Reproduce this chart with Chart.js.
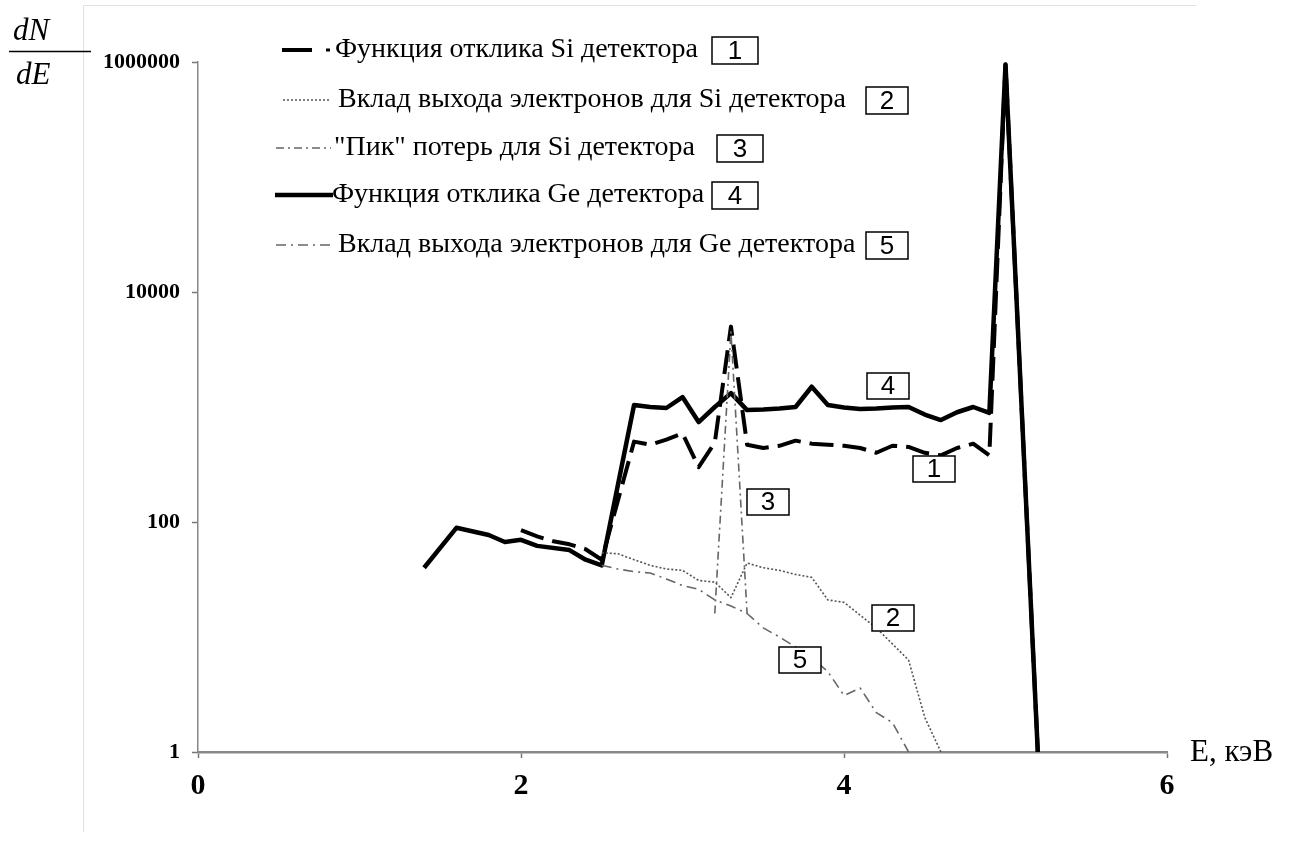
<!DOCTYPE html>
<html>
<head>
<meta charset="utf-8">
<title>Функция отклика детекторов</title>
<script src="https://cdn.jsdelivr.net/npm/chart.js@4"></script>
<style>
  html, body { margin: 0; padding: 0; background: #fff; }
  #wrap { width: 1296px; height: 850px; }
</style>
</head>
<body>
<div id="wrap"><canvas id="response-chart" width="1296" height="850"></canvas></div>
<script>
// energies in keV, counts dN/dE
const siEnergy = [2.0, 2.1, 2.2, 2.3, 2.4, 2.5, 2.7, 2.8, 2.9, 3.0, 3.1, 3.2, 3.3, 3.4, 3.5, 3.6, 3.7, 3.8, 3.9, 4.0, 4.1, 4.2, 4.3, 4.4, 4.5, 4.6, 4.7, 4.8, 4.9, 5.0, 5.2];
const siResponse = [85, 75, 68, 64, 58, 47, 500, 470, 520, 590, 300, 490, 5000, 470, 440, 460, 510, 480, 470, 460, 440, 400, 460, 450, 400, 380, 440, 480, 380, 950000, 1];

const siEscEnergy = [2.5, 2.6, 2.7, 2.8, 2.9, 3.0, 3.1, 3.2, 3.3, 3.4, 3.5, 3.6, 3.7, 3.8, 3.9, 4.0, 4.1, 4.2, 4.3, 4.4, 4.5, 4.6];
const siEscape = [54, 53, 47, 42, 39, 38, 31, 30, 22, 44, 40, 38, 35, 33, 21, 20, 15.5, 12, 8.7, 6.3, 2.0, 1];

const lossEnergy = [3.2, 3.3, 3.4];
const lossPeak = [16, 4500, 16];

const geEnergy = [1.4, 1.6, 1.8, 1.9, 2.0, 2.1, 2.3, 2.4, 2.5, 2.6, 2.7, 2.8, 2.9, 3.0, 3.1, 3.2, 3.3, 3.4, 3.5, 3.6, 3.7, 3.8, 3.9, 4.0, 4.1, 4.2, 4.3, 4.4, 4.5, 4.6, 4.7, 4.8, 4.9, 5.0, 5.2];
const geResponse = [40, 89, 77, 67, 70, 62, 57, 47, 42, 210, 1040, 1000, 980, 1220, 740, 1000, 1320, 940, 950, 970, 1000, 1500, 1040, 990, 960, 970, 990, 1000, 860, 770, 900, 1000, 890, 950000, 1];

const geEscEnergy = [2.5, 2.6, 2.7, 2.8, 2.9, 3.0, 3.1, 3.2, 3.3, 3.4, 3.5, 3.6, 3.7, 3.8, 3.9, 4.0, 4.1, 4.2, 4.3, 4.4];
const geEscape = [42, 39, 37, 36, 32, 28, 26, 21, 18.6, 16, 12, 10, 8.2, 6.6, 5, 3.1, 3.6, 2.2, 1.8, 1];

const yTicks = [1, 100, 10000, 1000000];
const seriesNames = [
  "Функция отклика Si детектора",
  "Вклад выхода электронов для Si детектора",
  "\"Пик\" потерь для Si детектора",
  "Функция отклика Ge детектора",
  "Вклад выхода электронов для Ge детектора",
];
const seriesNumbers = ["1", "2", "3", "4", "5"];

const toPoints = (xs, ys) => xs.map((x, i) => ({ x: x, y: ys[i] }));

const serif = "'Liberation Serif', 'Times New Roman', serif";
const sans = "'Liberation Sans', Arial, sans-serif";

/* ============================================= */
/*            legend, captions, numbers          */
/* ============================================= */
function numberBox(ctx, text, x, y, w, h) {
  ctx.fillStyle = "#fff";
  ctx.fillRect(x, y, w, h);
  ctx.strokeStyle = "#000";
  ctx.lineWidth = 1.5;
  ctx.setLineDash([]);
  ctx.strokeRect(x, y, w, h);
  ctx.fillStyle = "#000";
  ctx.font = "26px " + sans;
  ctx.textAlign = "center";
  ctx.textBaseline = "middle";
  ctx.fillText(text, x + w / 2, y + h / 2 + 1);
}

function sampleLine(ctx, x1, x2, y, color, width, dash) {
  ctx.strokeStyle = color;
  ctx.lineWidth = width;
  ctx.setLineDash(dash);
  ctx.beginPath();
  ctx.moveTo(x1, y);
  ctx.lineTo(x2, y);
  ctx.stroke();
}

const decorations = {
  id: "decorations",
  beforeDraw(chart) {
    const ctx = chart.ctx;
    ctx.save();
    ctx.strokeStyle = "#e0e0e0";
    ctx.lineWidth = 1;
    ctx.beginPath();
    ctx.moveTo(83.5, 832);
    ctx.lineTo(83.5, 5.5);
    ctx.lineTo(1196, 5.5);
    ctx.stroke();
    ctx.restore();
  },
  afterDraw(chart) {
    const ctx = chart.ctx;
    ctx.save();

    // dN/dE
    ctx.fillStyle = "#000";
    ctx.font = "italic 31px " + serif;
    ctx.textAlign = "left";
    ctx.textBaseline = "alphabetic";
    ctx.fillText("dN", 13, 40);
    ctx.fillText("dE", 16, 84);
    sampleLine(ctx, 9, 91, 51.5, "#000", 1.5, []);

    // axis caption
    ctx.font = "31px " + serif;
    ctx.textBaseline = "middle";
    ctx.fillText("E, кэВ", 1190, 753);

    // legend
    const rows = [
      { y: 50, textX: 335, boxX: 712 },
      { y: 100, textX: 338, boxX: 866 },
      { y: 148, textX: 334, boxX: 717 },
      { y: 195, textX: 332, boxX: 712 },
      { y: 245, textX: 338, boxX: 866 },
    ];
    sampleLine(ctx, 282, 312, rows[0].y, "#000", 4, []);
    sampleLine(ctx, 326, 330, rows[0].y, "#000", 3, []);
    sampleLine(ctx, 283, 331, rows[1].y, "#555", 1.6, [2, 2]);
    sampleLine(ctx, 276, 331, rows[2].y, "#666", 1.6, [8, 4, 2, 4]);
    sampleLine(ctx, 275, 333, rows[3].y, "#000", 4.5, []);
    sampleLine(ctx, 276, 331, rows[4].y, "#666", 1.6, [10, 5, 2, 5]);

    rows.forEach((r, i) => {
      ctx.fillStyle = "#000";
      ctx.textAlign = "left";
      ctx.textBaseline = "middle";
      ctx.setLineDash([]);
      ctx.font = "28px " + serif;
      ctx.fillText(seriesNames[i], r.textX, r.y);
      numberBox(ctx, seriesNumbers[i], r.boxX, r.y - 13, i === 1 || i === 4 ? 42 : 46, 27);
    });

    // curve numbers inside the plot
    numberBox(ctx, "4", 867, 373, 42, 26);
    numberBox(ctx, "1", 913, 456, 42, 26);
    numberBox(ctx, "3", 747, 489, 42, 26);
    numberBox(ctx, "2", 872, 605, 42, 26);
    numberBox(ctx, "5", 779, 647, 42, 26);

    ctx.restore();
  },
};

/* ============================================= */
/*                  Chart                        */
/* ============================================= */
const responseCanvas = document.querySelector("#response-chart");

const responseChart = new Chart(responseCanvas, {
  type: "line",
  data: {
    datasets: [
      {
        label: seriesNames[1],
        data: toPoints(siEscEnergy, siEscape),
        borderColor: "#555",
        borderWidth: 1.6,
        borderDash: [2, 2],
      },
      {
        label: seriesNames[4],
        data: toPoints(geEscEnergy, geEscape),
        borderColor: "#666",
        borderWidth: 1.6,
        borderDash: [10, 5, 2, 5],
      },
      {
        label: seriesNames[2],
        data: toPoints(lossEnergy, lossPeak),
        borderColor: "#666",
        borderWidth: 1.6,
        borderDash: [8, 4, 2, 4],
      },
      {
        label: seriesNames[3],
        data: toPoints(geEnergy, geResponse),
        borderColor: "#000",
        borderWidth: 4.5,
      },
      {
        label: seriesNames[0],
        data: toPoints(siEnergy, siResponse),
        borderColor: "#000",
        borderWidth: 4,
        borderDash: [24, 9],
      },
    ],
  },
  options: {
    responsive: false,
    animation: false,
    clip: false,
    elements: {
      point: { radius: 0 },
      line: { tension: 0, fill: false, borderJoinStyle: "round" },
    },
    layout: {
      padding: { left: 0, top: 62, right: 129, bottom: 0 },
    },
    plugins: {
      legend: { display: false },
      tooltip: { enabled: false },
    },
    scales: {
      x: {
        type: "linear",
        min: 0,
        max: 6,
        afterFit: (scale) => { scale.height = 98; },
        ticks: {
          stepSize: 2,
          color: "#000",
          padding: 10,
          font: { family: serif, size: 30, weight: "bold" },
        },
        grid: { drawOnChartArea: false, color: "#777", tickLength: 6, tickWidth: 1.5 },
        border: { color: "#888", width: 2.5 },
      },
      y: {
        type: "logarithmic",
        min: 1,
        max: 1000000,
        afterFit: (scale) => { scale.width = 198; },
        afterBuildTicks: (scale) => { scale.ticks = yTicks.map((v) => ({ value: v })); },
        ticks: {
          color: "#000",
          padding: 12,
          callback: (value) => String(value),
          font: { family: serif, size: 22, weight: "bold" },
        },
        grid: { drawOnChartArea: false, color: "#777", tickLength: 6, tickWidth: 1.5 },
        border: { color: "#888", width: 1.5 },
      },
    },
  },
  plugins: [decorations],
});
</script>
</body>
</html>
